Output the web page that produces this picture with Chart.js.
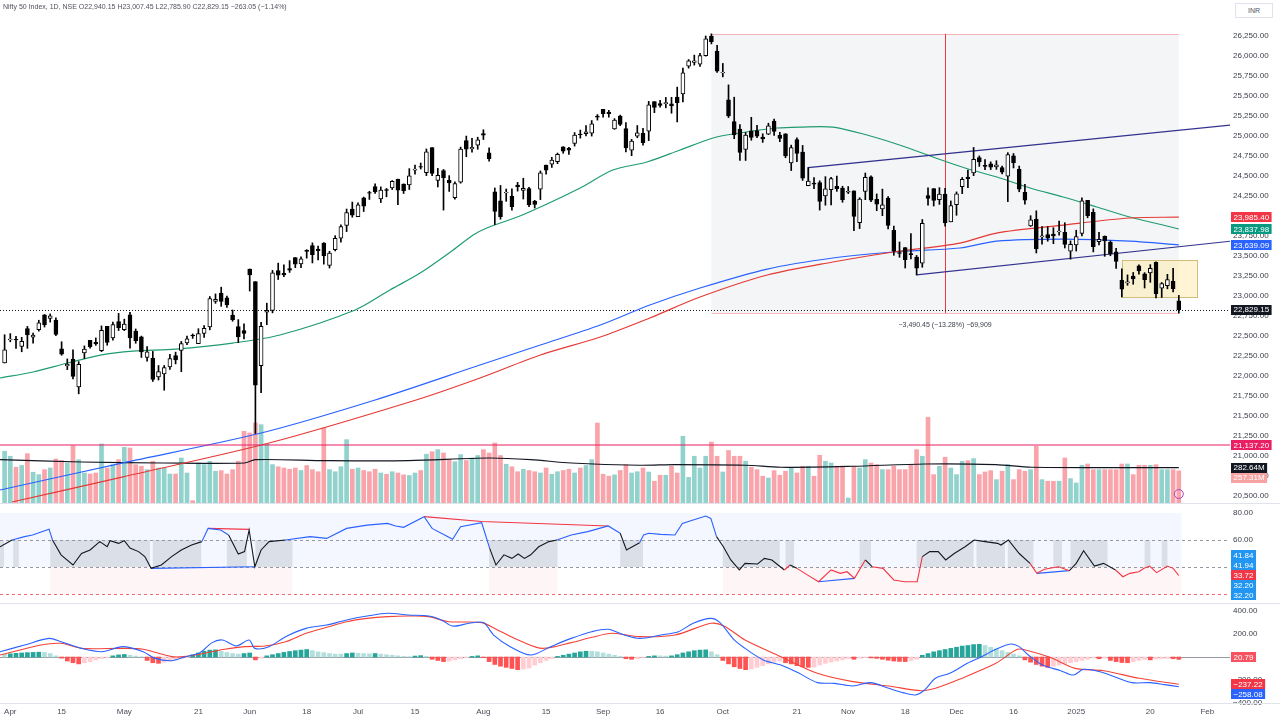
<!DOCTYPE html>
<html>
<head>
<meta charset="utf-8">
<title>Nifty 50 Index, 1D</title>
<script src="https://cdn.jsdelivr.net/npm/chart.js@4.4.1/dist/chart.umd.min.js"></script>
<style>
  html, body { margin: 0; padding: 0; background: #fff; }
  body { width: 1280px; height: 720px; position: relative; overflow: hidden; font-family: 'Liberation Sans', Arial, sans-serif; }
  canvas { position: absolute; left: 0; }
  #mainChart { top: 0; }
  #rsiChart { top: 504px; }
  #macdChart { top: 604px; }
  .sep { position: absolute; left: 0; width: 1280px; height: 1px; background: #e0e3eb; }
  #header { position: absolute; left: 3px; top: 3px; font-size: 7px; color: #50535e; white-space: nowrap; }
  #cur { position: absolute; left: 1235px; top: 3px; width: 36px; height: 13px; border: 1px solid #e0e3eb; font-size: 7px; color: #50535e; line-height: 13px; text-align: center; background: #fff; }
</style>
</head>
<body>
<canvas id="mainChart" width="1280" height="503"></canvas>
<div class="sep" style="top:503px"></div>
<canvas id="rsiChart" width="1280" height="99"></canvas>
<div class="sep" style="top:603px"></div>
<canvas id="macdChart" width="1280" height="116"></canvas>
<div class="sep" style="top:703px"></div>
<div id="header">Nifty 50 Index, 1D, NSE O22,940.15 H23,007.45 L22,785.90 C22,829.15 −263.05 (−1.14%)</div>
<div id="cur">INR</div>
<script>
// bar index: 0 = 1 Apr 2024, -1 = 28 Mar 2024, 205 = 27 Jan 2025
const opens = [
  22163,
  22455, 22458, 22371, 22592, 22486, 22578, 22765, 22720, 22700, 22340, 22125, 22212, 21862, 22290, 22447, 22421, 22316, 22620, 22475, 22679,
  22580, 22766, 22561, 22489, 22231, 22224, 21990, 22027, 22113, 22255, 22319, 22415, 22512, 22405, 22531, 22614, 22931, 23038, 22978, 22762, 22617, 22568,
  23338, 23179, 22128, 22798, 22821, 23319, 23283, 23344, 23480, 23400, 23570, 23630, 23586, 23661, 23382, 23578, 23723, 23881, 24087,
  23992, 24228, 24291, 24369, 24213, 24329, 24351, 24459, 24400, 24388, 24572, 24615, 24543, 24854, 24445, 24568, 24445, 24230, 24423, 24943, 24839, 24886,
  25030, 24789, 24303, 24189, 24289, 24248, 24387, 24321, 24342, 24184, 24334, 24636, 24648, 24680, 24864, 24845, 24906, 25025, 25030, 25035, 25249,
  25333, 25300, 25089, 25250, 25093, 24823, 24999, 25034, 25059, 25430, 25406, 25404, 25402, 25487, 25526, 25873, 25921, 25899, 26005, 26248, 26061,
  25788, 25452, 25181, 25085, 24832, 25066, 25067, 24986, 25023, 25187, 25008, 25027, 24664, 24956, 24798, 24378, 24412, 24418, 24252, 24328, 24371, 24349,
  24302, 24315, 23916, 24308, 24489, 24207, 24087, 24225, 23822, 23542, 23605, 23529, 23488, 23411, 24254, 24343, 24204, 24274, 23927,
  24141, 24367, 24488, 24539, 24729, 24633, 24652, 24615, 24604, 24498, 24753, 24584, 24297, 23877, 23960, 23738, 23769, 23775, 23801, 23796, 23561,
  23637, 23783, 24196, 24045, 23680, 23746, 23674, 23551, 23195, 23165, 23250, 23378, 23278, 23290, 23421, 23099, 23129, 23183, 22940.15
];
const highs = [
  22516,
  22530, 22496, 22483, 22620, 22537, 22697, 22768, 22776, 22727, 22428, 22213, 22327, 22180, 22376, 22447, 22476, 22626, 22620, 22675, 22783,
  22711, 22795, 22588, 22499, 22368, 22307, 22131, 22132, 22270, 22298, 22432, 22498, 22526, 22591, 22629, 22994, 23026, 23110, 22998, 22825, 22705, 22653,
  23338, 23179, 22670, 22910, 23320, 23411, 23389, 23442, 23481, 23490, 23579, 23664, 23624, 23668, 23558, 23754, 23889, 24087, 24174,
  24164, 24236, 24309, 24402, 24364, 24344, 24443, 24461, 24402, 24592, 24636, 24662, 24838, 24854, 24595, 24582, 24505, 24426, 24861, 24999, 24971, 24985,
  25078, 24851, 24350, 24382, 24337, 24340, 24420, 24472, 24359, 24196, 24563, 24638, 24734, 24787, 24867, 24858, 25043, 25074, 25130, 25193, 25268,
  25333, 25321, 25217, 25261, 25168, 24958, 25131, 25095, 25433, 25430, 25445, 25482, 25483, 25611, 25849, 25956, 26011, 26032, 26250, 26277, 26134,
  25907, 25639, 25485, 25143, 25044, 25234, 25134, 25028, 25160, 25212, 25046, 25029, 24886, 24978, 24882, 24605, 24481, 24440, 24492, 24484, 24499, 24372,
  24368, 24316, 24229, 24537, 24503, 24276, 24336, 24242, 23874, 23675, 23606, 23781, 23507, 23956, 24351, 24343, 24354, 24345, 24188,
  24301, 24481, 24574, 24857, 24751, 24705, 24677, 24691, 24624, 24792, 24781, 24624, 24395, 24004, 24065, 23869, 23867, 23854, 23938, 23916, 23689,
  23822, 24226, 24196, 24089, 23795, 23751, 23689, 23596, 23340, 23264, 23294, 23391, 23292, 23392, 23426, 23169, 23271, 23347, 23007.45
];
const lows = [
  22163,
  22428, 22346, 22303, 22346, 22410, 22561, 22612, 22674, 22504, 22259, 22080, 21962, 21777, 22218, 22349, 22383, 22305, 22385, 22447, 22568,
  22568, 22348, 22409, 22232, 22185, 21932, 21950, 21822, 22082, 22151, 22054, 22393, 22470, 22404, 22483, 22577, 22908, 22871, 22858, 22685, 22417, 22465,
  23062, 21281, 21791, 22642, 22789, 23206, 23242, 23295, 23354, 23353, 23473, 23413, 23451, 23398, 23350, 23563, 23673, 23805, 23985,
  23992, 24056, 24207, 24281, 24168, 24240, 24331, 24141, 24281, 24331, 24522, 24587, 24505, 24504, 24363, 24074, 24307, 24211, 24410, 24741, 24798, 24834,
  24956, 24686, 23893, 23960, 24184, 24074, 24311, 24212, 24116, 24100, 24205, 24522, 24607, 24654, 24784, 24771, 24874, 24973, 25000, 24999, 25199,
  25235, 25235, 25083, 25129, 24801, 24754, 24978, 24885, 24942, 25292, 25360, 25352, 25285, 25176, 25426, 25848, 25886, 25871, 25998, 26151, 25794,
  25739, 25230, 24966, 24695, 24694, 24947, 24979, 24920, 25017, 25008, 24929, 24728, 24568, 24679, 24445, 24378, 24341, 24074, 24135, 24140, 24308, 24172,
  24280, 23817, 23843, 24204, 24179, 24066, 24004, 23839, 23509, 23484, 23350, 23464, 23263, 23359, 24135, 24125, 24145, 23873, 23927,
  24009, 24280, 24354, 24504, 24620, 24580, 24580, 24583, 24527, 24180, 24601, 24303, 24149, 23870, 23538, 23647, 23685, 23654, 23760, 23600, 23460,
  23562, 23752, 23977, 23551, 23637, 23496, 23503, 23344, 22987, 23134, 23147, 23273, 23100, 23171, 22977, 22982, 23090, 23051, 22785.90
];
const closes = [
  22327,
  22462, 22453, 22434, 22514, 22513, 22666, 22642, 22753, 22519, 22272, 22147, 21995, 22147, 22336, 22368, 22402, 22570, 22419, 22643, 22605,
  22648, 22476, 22442, 22302, 22302, 21957, 22055, 22104, 22218, 22201, 22404, 22466, 22502, 22529, 22597, 22967, 22957, 22932, 22888, 22704, 22488, 22531,
  23264, 21884, 22620, 22821, 23290, 23259, 23264, 23323, 23398, 23465, 23557, 23516, 23567, 23501, 23538, 23721, 23868, 24044, 24010,
  24141, 24124, 24286, 24302, 24324, 24321, 24433, 24324, 24316, 24502, 24587, 24613, 24801, 24531, 24509, 24479, 24413, 24406, 24835, 24836, 24857, 24951,
  25011, 24718, 24056, 23993, 24297, 24117, 24368, 24347, 24140, 24144, 24541, 24573, 24698, 24770, 24811, 24823, 25010, 25017, 25052, 25152, 25236,
  25279, 25280, 25198, 25145, 24852, 24936, 25041, 24918, 25389, 25357, 25383, 25419, 25377, 25416, 25791, 25939, 25940, 26004, 26216, 26178, 25811,
  25797, 25250, 25015, 24796, 25013, 24982, 24998, 24964, 25128, 25057, 24971, 24750, 24854, 24781, 24472, 24435, 24399, 24181, 24339, 24467, 24341, 24205,
  24304, 23995, 24213, 24484, 24199, 24148, 24141, 23883, 23559, 23533, 23453, 23518, 23349, 23907, 24221, 24194, 24275, 23914, 24131,
  24276, 24457, 24467, 24708, 24677, 24619, 24610, 24641, 24548, 24768, 24668, 24336, 24199, 23952, 23588, 23753, 23727, 23750, 23813, 23645, 23645,
  23743, 24189, 24005, 23616, 23708, 23689, 23527, 23432, 23086, 23176, 23213, 23312, 23203, 23345, 23025, 23155, 23205, 23092, 22829.15
];
// volume in millions
const volumes = [
  414, 374, 286, 300, 395, 246, 227, 267, 280, 352, 340, 320, 459, 346, 240, 232, 240, 472, 280, 307, 347,
  446, 440, 307, 294, 267, 334, 280, 280, 232, 232, 360, 240, 19, 320, 307, 334, 254, 259, 232, 267, 334, 574,
  560, 640, 627, 472, 307, 290, 280, 270, 280, 260, 300, 267, 250, 600, 267, 250, 290, 507, 270,
  280, 260, 250, 270, 240, 230, 250, 240, 225, 220, 240, 260, 390, 410, 427, 400, 350, 330, 387, 340, 360, 380,
  427, 400, 480, 380, 310, 290, 250, 270, 260, 250, 240, 280, 230, 250, 260, 270, 240, 280, 300, 347, 640,
  230, 215, 225, 260, 307, 240, 250, 280, 248, 174, 222, 222, 294, 240, 534, 205, 374, 280, 374, 488, 374,
  248, 420, 374, 374, 334, 286, 267, 214, 200, 259, 222, 254, 286, 240, 294, 294, 214, 382, 334, 320, 294, 294,
  40, 294, 280, 347, 320, 307, 267, 267, 294, 267, 267, 307, 427, 374, 686, 227, 294, 366, 280,
  227, 334, 339, 355, 227, 248, 259, 187, 254, 307, 187, 267, 254, 267, 454, 187, 174, 174, 174, 360, 195,
  160, 302, 312, 267, 267, 267, 267, 267, 312, 312, 227, 302, 302, 302, 307, 267, 267, 267, 257.31
];
const macdHist = [
  25, 28, 32, 35, 38, 40, 42, 40, 30, 10, -10, -35, -50, -60, -50, -40, -25, -15, -5, 10, 18, 22, 15, 8, 2,
  -30, -50, -55, -45, -35, -25, -15, -5, 20, 35, 50, 60, 62, 50, 40, 30, 25, 30, 35, -25, -10,
  10, 20, 30, 40, 48, 55, 60, 65, 55, 45, 38, 30, 25, 25, 30, 35, 32, 30, 28, 30, 25, 20, 15,
  10, 5, 3, 8, 12, 5, -20, -30, -40, -35, -25, -15, -5, 5, 10, -5,
  -40, -65, -80, -90, -100, -110, -105, -95, -70, -50, -30, -15, 5, 15, 25, 35, 45, 50, 50, 45, 35,
  25, 15, 5, -15, -20, -15, -5, 5, 10, 10, 8, 10, 20, 35, 45, 55, 60, 62, 45, 20,
  -30, -60, -85, -100, -110, -105, -90, -75, -60, -45, -35, -50, -60, -75, -85, -90, -88,
  -70, -55, -45, -35, -25, -15, -20, -10, -5, -8, -12, -20, -28, -35, -38, -40, -30, -20,
  15, 30, 45, 55, 65, 75, 85, 95, 100, 108, 110, 100, 85, 70, 55, 40, 25, 10,
  -25, -45, -65, -80, -90, -80, -70, -60, -50, -40, -30, -20, -10, -15, -10,
  -30, -40, -48, -50, -40, -30, -22, -25, -18, -15, -12, -15, -20.79
];
// line studies read at [bar index, value]
const maGreen = [[-1.8,21975],[4,22050],[10,22162],[15.8,22262],[21.5,22312],[29,22337],[39,22412],[47.3,22512],[60.5,22825],[66.6,23075],[71.9,23287],[77.7,23575],[81.2,23762],[83.6,23850],[89.4,24000],[93,24112],[100,24350],[105.7,24575],[111.7,24675],[117.5,24825],[123.3,24975],[126.8,25025],[134.5,25100],[138.5,25112],[144.3,25112],[150.3,25012],[156,24887],[161.9,24737],[167.5,24600],[173.6,24475],[178.9,24350],[184.7,24237],[190.6,24112],[196.4,23987],[202.2,23887],[205,23837.98]];
const maBlue = [[-1.8,20575],[19.6,20912],[44,21287],[64,21700],[82.4,22137],[93,22387],[103.5,22637],[112.2,22887],[121,23100],[132.8,23337],[144.3,23475],[154.9,23550],[166.6,23600],[173,23687],[184.7,23712],[196.4,23687],[205,23639.09]];
const maRed = [[0.3,20425],[19.6,20737],[45.4,21162],[71.2,21700],[82.4,21975],[93,22262],[103.5,22487],[112.2,22725],[121,22987],[132.8,23262],[144.3,23425],[154.9,23550],[166.6,23662],[173,23787],[184.7,23887],[196.4,23975],[205,23985.40]];
const volMA = [[-1.8,347],[12.5,328],[26.8,320],[41.1,320],[43,347],[55.5,339],[69.8,339],[84,360],[91.3,347],[98.4,320],[110.4,302],[116.6,307],[129,302],[135.2,286],[147.8,294],[160.4,312],[172.9,307],[179.2,286],[205,282.64]];
const channelUpper = [[140,24425],[140,24605],[214.3,25137]];
const channelLower = [[159,23263],[214.3,23687]];
const levelLine = 21137.20;
const measure = { from: 123, to: 205, high: 26277, low: 22786, text: '−3,490.45 (−13.28%) −69,909' };
const boxZone = { from: 195, to: 208.2, high: 23450, low: 22987 };

const rsiPts = [[-1.8,55],[0.3,60],[2.5,62.5],[3.9,63.7],[5.4,66],[6.8,68],[7.4,60],[8.9,49],[11,41.5],[12.5,50],[14,52.6],[15.7,58.8],[17,55],[17.5,59.5],[19,57.5],[20,59.5],[21,54],[22.5,51.4],[23.6,47.7],[24.7,39],[26.5,41.5],[28.3,47.7],[30,52.6],[31.8,56.3],[33.6,58.8],[34.7,68.6],[36.9,67.4],[38.3,63.7],[40,49.6],[41.1,51.4],[41.9,67.4],[42.9,40.2],[44,52.6],[45.4,58.8],[48.3,60],[52.6,62.5],[55.5,61.2],[59,68.6],[62.6,71],[66.2,72.3],[67.6,70.4],[69,69.4],[72.6,77.3],[74,68.6],[76.2,63.7],[77.6,60.5],[79,69.9],[82.7,72.8],[84.1,53.8],[85.2,41.5],[86.6,49],[88,46.4],[89.1,49.6],[90.2,46.4],[91.3,49],[92.7,55],[94.5,58.8],[95.9,60],[98.4,63.7],[101.3,66.2],[104.9,70.4],[107,65],[108.1,52.6],[110.4,58],[111.1,63.7],[112,65],[114.1,64.2],[116.6,63.7],[117.9,72.3],[119.8,74.8],[122,77.8],[122.9,76],[123.9,62.5],[125.1,55],[126.4,45.2],[127.9,37.8],[128.9,42.7],[131.1,42.2],[132.3,46.4],[133.6,45.2],[135.8,37.8],[136.8,41.5],[138,39],[139.9,34],[141.8,29.1],[144,37.8],[145.6,35.3],[146.8,36.5],[148.1,31.6],[150,45.2],[151.2,40.2],[153.1,39],[155,30.4],[156.9,29.1],[159.1,29.1],[160,47.7],[161.3,51.4],[162.8,51.4],[164.1,45.2],[165.6,50],[167.5,55],[169.1,60],[171,58.8],[173.2,57.5],[173.8,56.3],[175.1,60],[177,50],[178.9,42.7],[180.1,35.3],[181.4,38.3],[183.9,40.2],[185.8,37.3],[187,42.7],[188.3,52.1],[190.2,40.7],[191.8,42.7],[193.9,37.8],[195.2,32.8],[196.4,35.3],[198,36.5],[198.9,39],[199.9,40.7],[201.1,35.8],[203,40.7],[204,39],[205,33.72]];
const rsiDivRed = [[[34.7,68.6],[41.9,67.9]], [[72.6,77.3],[82.7,73.7],[104.9,70.4]]];
const rsiDivBlue = [[[24.7,39],[42.9,40.2]], [[141.8,29.1],[148.1,31.6]], [[180.1,35.3],[185.8,37.3]]];
const rsiGreyZones = [[-1.8,-1.1],[0.5,1.5],[7,24.5],[25,33.5],[38,41.5],[43,49.5],[84,96],[107,111],[125,135],[136,137.5],[149,151],[159,169],[169.5,174.5],[175,179.5],[183,184.5],[186,192.5],[199,200],[202,203]];
const rsiPinkZones = [[7,49.5],[84,96],[125,205.5]];
const rsiLabelValues = [41.84, 41.94, 33.72, 32.20, 32.20];

const macdPts = [[-1.8,46],[2.5,104],[6.8,162],[8.9,133],[12.5,75],[16.1,46],[19.7,90],[23.3,46],[25.4,-12],[28.3,-32],[30.4,-3],[33.3,38],[35.4,125],[37.2,148],[39.7,96],[41.9,148],[42.9,75],[45.4,90],[48.3,177],[51.9,249],[55.5,278],[59,322],[62.6,356],[66.2,380],[69.8,365],[73.4,356],[75.6,322],[77.6,269],[80.5,293],[83,299],[84.8,191],[87.7,90],[91.3,17],[94.8,90],[98.4,162],[102,220],[104.9,241],[107.7,191],[110.4,162],[114.1,191],[117.2,220],[119.8,293],[122.9,336],[124.5,299],[127,148],[128.9,75],[132.1,-26],[135.2,-70],[138.4,-142],[141.6,-223],[144.6,-229],[147.8,-252],[150.9,-223],[154.1,-272],[156.6,-310],[158.8,-330],[160.4,-287],[162.3,-185],[164.8,-142],[167.9,-55],[170.4,3],[172.9,67],[175.5,113],[177,90],[178.6,17],[181.1,-70],[184.3,-119],[186.5,-157],[188.3,-107],[191.2,-128],[193.7,-171],[196.8,-223],[200,-223],[202.5,-240],[205,-258.08]];
const signalPts = [[-1.8,17],[5.4,104],[8.9,119],[12.5,75],[19.7,75],[23.3,67],[28.3,3],[30.4,3],[34,32],[37.6,67],[41.1,90],[44.7,96],[48.3,133],[51.9,206],[55.5,258],[59,307],[62.6,336],[66.2,351],[69.8,356],[73.4,351],[76.9,307],[82.7,299],[85.5,235],[89.8,133],[93.4,75],[98.4,125],[102,171],[105.6,206],[110.4,177],[116.6,191],[122.9,293],[125.2,270],[128.9,148],[135.2,3],[141.6,-142],[147.8,-214],[154.1,-252],[159.8,-293],[162.3,-272],[166.5,-194],[172.9,-55],[176.7,67],[178.6,55],[182.4,-3],[186.8,-99],[191.8,-119],[198.1,-185],[205,-237.22]];

const tickIdx = [0, 9, 20, 33, 42, 52, 61, 71, 83, 94, 104, 114, 125, 138, 147, 157, 166, 176, 187, 200, 210];
const tickText = ['Apr', '15', 'May', '21', 'Jun', '18', 'Jul', '15', 'Aug', '15', 'Sep', '16', 'Oct', '21', 'Nov', '18', 'Dec', '16', '2025', '20', 'Feb'];
const priceTicks = [26250, 26000, 25750, 25500, 25250, 25000, 24750, 24500, 24250, 24000, 23750, 23500, 23250, 23000, 22750, 22500, 22250, 22000, 21750, 21500, 21250, 21000, 20750, 20500];
const rsiTicks = [80, 60];
const macdTicks = [400, 200, -200, -400];

// ---- layout / style ----
const X_MIN = -1.807, X_MAX = 213.98;
const FIRST = -1;
const LAST = FIRST + closes.length - 1;
const FONT = "'Liberation Sans', Arial, sans-serif";
Chart.defaults.font.family = FONT;
Chart.defaults.animation = false;

const fmt2 = v => {
  const s = Math.abs(v).toLocaleString('en-US', { minimumFractionDigits: 2, maximumFractionDigits: 2 });
  return v < 0 ? '−' + s : s;
};
const noPad = s => { s.paddingTop = 0; s.paddingBottom = 0; s.paddingLeft = 0; s.paddingRight = 0; };

const xAxis = show => ({
  type: 'linear', min: X_MIN, max: X_MAX, display: show, offset: false,
  grid: { display: false, drawTicks: false }, border: { display: false },
  afterBuildTicks: s => { s.ticks = tickIdx.map(v => ({ value: v })); },
  afterFit: s => { if (show) s.height = 17; noPad(s); },
  ticks: { autoSkip: false, maxRotation: 0, padding: 4, color: '#4a4e59', font: { size: 8 },
           callback: (v, i) => tickText[i] }
});
const yAxis = (min, max, ticks) => ({
  position: 'right', min, max,
  grid: { display: false, drawTicks: false }, border: { display: false },
  afterFit: s => { s.width = 50; noPad(s); },
  afterBuildTicks: s => { s.ticks = ticks.map(v => ({ value: v })); },
  ticks: { autoSkip: false, padding: 3, color: '#3b3f4a', font: { size: 8 }, callback: v => fmt2(v) }
});

// stack axis labels so they do not overlap; the middle label of a group stays at its value
function placeLabels(items, h, top, bottom) {
  let groups = items.map(it => [it]);
  const place = g => {
    const k = Math.floor((g.length - 1) / 2);
    let start = g[k].y - k * h - h / 2;
    start = Math.max(top, Math.min(start, bottom - g.length * h));
    g.forEach((it, j) => { it.py = start + h * j + h / 2; });
  };
  let merged = true;
  while (merged) {
    merged = false;
    groups.forEach(place);
    for (let i = 0; i < groups.length - 1; i++) {
      const a = groups[i], b = groups[i + 1];
      if (a[a.length - 1].py + h / 2 > b[0].py - h / 2) {
        groups.splice(i, 2, a.concat(b));
        merged = true;
        break;
      }
    }
  }
  groups.forEach(place);
}
function drawLabels(ctx, x0, items) {
  ctx.save();
  ctx.font = '8px ' + FONT;
  ctx.textBaseline = 'middle';
  ctx.textAlign = 'left';
  items.forEach(it => {
    const w = ctx.measureText(it.text).width + 5;
    ctx.fillStyle = it.bg;
    ctx.fillRect(x0, Math.round(it.py - 5), w, 10);
    ctx.fillStyle = it.fg || '#fff';
    ctx.fillText(it.text, x0 + 2.5, it.py + 0.5);
  });
  ctx.restore();
}

const UP = '#ffffff', DOWN = '#000000';
const VOL_UP = 'rgba(38,166,154,0.5)', VOL_DOWN = 'rgba(242,54,69,0.45)';

// ---- main pane ----
const PRICE_MAX = 26700, PRICE_MIN = 26700 - 503 / 0.08;
const VOL_MAX = 503 / 0.125;

const wickData = closes.map((c, i) => ({ x: FIRST + i, y: [lows[i], highs[i]] }));
const bodyData = closes.map((c, i) => {
  const lo = Math.min(opens[i], c), hi = Math.max(opens[i], c);
  const pad = hi - lo < 8 ? (8 - (hi - lo)) / 2 : 0;
  return { x: FIRST + i, y: [lo - pad, hi + pad] };
});
const isUp = closes.map((c, i) => c >= opens[i]);

const mainPlugin = {
  id: 'mainDecor',
  beforeDatasetsDraw(chart) {
    const { ctx, chartArea: a, scales: { x, y } } = chart;
    ctx.save();
    // measure box
    const mx0 = x.getPixelForValue(measure.from), mx1 = x.getPixelForValue(measure.to);
    const my0 = y.getPixelForValue(measure.high), my1 = y.getPixelForValue(measure.low);
    ctx.fillStyle = 'rgba(120,128,150,0.08)';
    ctx.fillRect(mx0, my0, mx1 - mx0, my1 - my0);
    ctx.strokeStyle = 'rgba(242,54,69,0.35)';
    ctx.lineWidth = 1;
    ctx.beginPath();
    ctx.moveTo(mx0, Math.round(my0) + 0.5); ctx.lineTo(mx1, Math.round(my0) + 0.5);
    ctx.moveTo(mx0, Math.round(my1) + 0.5); ctx.lineTo(mx1, Math.round(my1) + 0.5);
    ctx.stroke();
    ctx.strokeStyle = '#f23645';
    const mxc = Math.round((mx0 + mx1) / 2) + 0.5;
    ctx.beginPath(); ctx.moveTo(mxc, my0); ctx.lineTo(mxc, my1); ctx.stroke();
    // highlight rectangle
    const bx0 = x.getPixelForValue(boxZone.from), bx1 = x.getPixelForValue(boxZone.to);
    const by0 = y.getPixelForValue(boxZone.high), by1 = y.getPixelForValue(boxZone.low);
    ctx.fillStyle = 'rgba(255,236,170,0.5)';
    ctx.fillRect(bx0, by0, bx1 - bx0, by1 - by0);
    ctx.strokeStyle = '#d2bd7a';
    ctx.strokeRect(Math.round(bx0) + 0.5, Math.round(by0) + 0.5, Math.round(bx1 - bx0), Math.round(by1 - by0));
    // last price dotted line
    const ly = Math.round(y.getPixelForValue(closes[closes.length - 1])) + 0.5;
    ctx.strokeStyle = '#131722';
    ctx.setLineDash([1, 2]);
    ctx.beginPath(); ctx.moveTo(a.left, ly); ctx.lineTo(a.right, ly); ctx.stroke();
    ctx.restore();
  },
  afterDatasetsDraw(chart) {
    const { ctx, chartArea: a, scales: { x, y, yv } } = chart;
    ctx.save();
    const mx0 = x.getPixelForValue(measure.from), mx1 = x.getPixelForValue(measure.to);
    const my1 = y.getPixelForValue(measure.low);
    ctx.font = '7px ' + FONT;
    ctx.textAlign = 'center';
    ctx.textBaseline = 'middle';
    const tw = ctx.measureText(measure.text).width;
    ctx.fillStyle = '#ffffff';
    ctx.fillRect((mx0 + mx1) / 2 - tw / 2 - 4, my1 + 6, tw + 8, 11);
    ctx.fillStyle = '#3b3f4a';
    ctx.fillText(measure.text, (mx0 + mx1) / 2, my1 + 12);
    // small icon near last volume bar
    ctx.strokeStyle = '#ab47bc';
    ctx.lineWidth = 1;
    ctx.beginPath(); ctx.arc(x.getPixelForValue(LAST), 494, 4.5, 0, Math.PI * 2); ctx.stroke();
    ctx.restore();

    const last = closes.length - 1;
    const priceItems = [
      { y: y.getPixelForValue(maRed[maRed.length - 1][1]), text: fmt2(maRed[maRed.length - 1][1]), bg: '#f23645' },
      { y: y.getPixelForValue(maGreen[maGreen.length - 1][1]), text: fmt2(maGreen[maGreen.length - 1][1]), bg: '#089981' },
      { y: y.getPixelForValue(maBlue[maBlue.length - 1][1]), text: fmt2(maBlue[maBlue.length - 1][1]), bg: '#2962ff' },
      { y: y.getPixelForValue(closes[last]), text: fmt2(closes[last]), bg: '#131722' },
      { y: y.getPixelForValue(levelLine), text: fmt2(levelLine), bg: '#e91e63' },
      { y: yv.getPixelForValue(volMA[volMA.length - 1][1]), text: fmt2(volMA[volMA.length - 1][1]) + 'M', bg: '#131722' },
      { y: yv.getPixelForValue(volumes[last]), text: fmt2(volumes[last]) + 'M', bg: '#f7a3a3' }
    ];
    placeLabels(priceItems, 10, a.top, a.bottom);
    drawLabels(chart.ctx, a.right + 1, priceItems);
  }
};

new Chart(document.getElementById('mainChart'), {
  type: 'bar',
  data: {
    datasets: [
      { type: 'bar', yAxisID: 'yv', order: 10, grouped: false, barThickness: 4,
        data: volumes.map((v, i) => ({ x: FIRST + i, y: v })),
        backgroundColor: isUp.map(u => u ? VOL_UP : VOL_DOWN) },
      { type: 'line', yAxisID: 'yv', order: 9, data: volMA, borderColor: '#131722', borderWidth: 1.2, pointRadius: 0, tension: 0.3 },
      { type: 'line', yAxisID: 'y', order: 6, data: maRed, borderColor: '#e53935', borderWidth: 1.2, pointRadius: 0, tension: 0.3 },
      { type: 'line', yAxisID: 'y', order: 6, data: maBlue, borderColor: '#2962ff', borderWidth: 1.2, pointRadius: 0, tension: 0.3 },
      { type: 'line', yAxisID: 'y', order: 6, data: maGreen, borderColor: '#1f9c6e', borderWidth: 1.2, pointRadius: 0, tension: 0.3 },
      { type: 'line', yAxisID: 'y', order: 5, data: [[X_MIN, levelLine], [X_MAX, levelLine]], borderColor: '#e91e63', borderWidth: 1.2, pointRadius: 0 },
      { type: 'line', yAxisID: 'y', order: 5, data: channelUpper, borderColor: '#33338f', borderWidth: 1.2, pointRadius: 0 },
      { type: 'line', yAxisID: 'y', order: 5, data: channelLower, borderColor: '#33338f', borderWidth: 1.2, pointRadius: 0 },
      { type: 'bar', yAxisID: 'y', order: 2, grouped: false, barThickness: 1, data: wickData, backgroundColor: '#000' },
      { type: 'bar', yAxisID: 'y', order: 1, grouped: false, barThickness: 4, data: bodyData,
        backgroundColor: isUp.map(u => u ? UP : DOWN), borderColor: '#000', borderWidth: 1, borderSkipped: false }
    ]
  },
  options: {
    responsive: false, maintainAspectRatio: false, events: [],
    layout: { padding: 0 },
    plugins: { legend: { display: false }, tooltip: { enabled: false } },
    scales: {
      x: xAxis(false),
      y: yAxis(PRICE_MIN, PRICE_MAX, priceTicks),
      yv: { display: false, min: 0, max: VOL_MAX }
    }
  },
  plugins: [mainPlugin]
});

// ---- RSI pane ----
const RSI_MAX = 80 + 9 / 1.35, RSI_MIN = 80 - 90 / 1.35;
const rsiColor = v => v > 60 ? '#2962ff' : v < 40 ? '#f23645' : '#131722';
const rsiPlugin = {
  id: 'rsiDecor',
  beforeDatasetsDraw(chart) {
    const { ctx, chartArea: a, scales: { x, y } } = chart;
    const xEnd = x.getPixelForValue(LAST + 0.5);
    const y80 = y.getPixelForValue(80), y60 = y.getPixelForValue(60), y40 = y.getPixelForValue(40), y20 = y.getPixelForValue(20);
    ctx.save();
    ctx.fillStyle = 'rgba(41,98,255,0.05)';
    ctx.fillRect(a.left, y80, xEnd - a.left, y40 - y80);
    ctx.fillStyle = 'rgba(120,123,134,0.2)';
    rsiGreyZones.forEach(([s, e]) => {
      const x0 = x.getPixelForValue(s), x1 = x.getPixelForValue(e);
      ctx.fillRect(x0, y60, x1 - x0, y40 - y60);
    });
    ctx.fillStyle = 'rgba(242,54,69,0.05)';
    rsiPinkZones.forEach(([s, e]) => {
      const x0 = x.getPixelForValue(s), x1 = x.getPixelForValue(e);
      ctx.fillRect(x0, y40, x1 - x0, y20 - y40);
    });
    ctx.lineWidth = 1;
    ctx.setLineDash([3, 3]);
    ctx.strokeStyle = '#9598a1';
    [y60, y40].forEach(yy => { ctx.beginPath(); ctx.moveTo(a.left, Math.round(yy) + 0.5); ctx.lineTo(a.right, Math.round(yy) + 0.5); ctx.stroke(); });
    ctx.strokeStyle = 'rgba(242,54,69,0.75)';
    ctx.beginPath(); ctx.moveTo(a.left, Math.round(y20) + 0.5); ctx.lineTo(a.right, Math.round(y20) + 0.5); ctx.stroke();
    ctx.restore();
  },
  afterDatasetsDraw(chart) {
    const { chartArea: a, scales: { y } } = chart;
    const colors = ['#2196f3', '#2196f3', '#f23645', '#2196f3', '#2196f3'];
    const items = rsiLabelValues.map((v, i) => ({ y: y.getPixelForValue(v), text: fmt2(v), bg: colors[i] }));
    placeLabels(items, 10, a.top, a.bottom);
    drawLabels(chart.ctx, a.right + 1, items);
  }
};
const rsiDatasets = [
  { type: 'line', data: rsiPts, borderWidth: 1.1, pointRadius: 0, borderColor: '#131722',
    segment: { borderColor: c => rsiColor((c.p0.parsed.y + c.p1.parsed.y) / 2) } }
];
rsiDivRed.forEach(d => rsiDatasets.push({ type: 'line', data: d, borderColor: '#f23645', borderWidth: 1.1, pointRadius: 0 }));
rsiDivBlue.forEach(d => rsiDatasets.push({ type: 'line', data: d, borderColor: '#2962ff', borderWidth: 1.1, pointRadius: 0 }));

new Chart(document.getElementById('rsiChart'), {
  type: 'line',
  data: { datasets: rsiDatasets },
  options: {
    responsive: false, maintainAspectRatio: false, events: [],
    layout: { padding: 0 },
    plugins: { legend: { display: false }, tooltip: { enabled: false } },
    scales: { x: xAxis(false), y: yAxis(RSI_MIN, RSI_MAX, rsiTicks) }
  },
  plugins: [rsiPlugin]
});

// ---- MACD pane ----
const MACD_MAX = 53 / 0.115, MACD_MIN = -46 / 0.115;
const histColors = macdHist.map((v, i) => {
  const p = i > 0 ? macdHist[i - 1] : v;
  if (v >= 0) return v > p ? '#26a69a' : '#b2dfdb';
  return v < p ? '#ff5252' : '#ffcdd2';
});
const macdPlugin = {
  id: 'macdDecor',
  beforeDatasetsDraw(chart) {
    const { ctx, chartArea: a, scales: { y } } = chart;
    const y0 = Math.round(y.getPixelForValue(0)) + 0.5;
    ctx.save();
    ctx.strokeStyle = '#9598a1';
    ctx.lineWidth = 1;
    ctx.beginPath(); ctx.moveTo(a.left, y0); ctx.lineTo(a.right, y0); ctx.stroke();
    ctx.restore();
  },
  afterDatasetsDraw(chart) {
    const { chartArea: a, scales: { y } } = chart;
    const items = [
      { y: y.getPixelForValue(0), text: '20.79', bg: '#f7525f' },
      { y: y.getPixelForValue(signalPts[signalPts.length - 1][1]), text: fmt2(signalPts[signalPts.length - 1][1]), bg: '#f23645' },
      { y: y.getPixelForValue(macdPts[macdPts.length - 1][1]), text: fmt2(macdPts[macdPts.length - 1][1]), bg: '#2962ff' }
    ];
    placeLabels(items, 10, a.top, a.bottom);
    drawLabels(chart.ctx, a.right + 1, items);
  }
};

new Chart(document.getElementById('macdChart'), {
  type: 'bar',
  data: {
    datasets: [
      { type: 'line', order: 1, data: macdPts, borderColor: '#2962ff', borderWidth: 1.1, pointRadius: 0, tension: 0.3 },
      { type: 'line', order: 2, data: signalPts, borderColor: '#f44336', borderWidth: 1.1, pointRadius: 0, tension: 0.3 },
      { type: 'bar', order: 5, grouped: false, barThickness: 4,
        data: macdHist.map((v, i) => ({ x: FIRST + i, y: v })), backgroundColor: histColors }
    ]
  },
  options: {
    responsive: false, maintainAspectRatio: false, events: [],
    layout: { padding: 0 },
    plugins: { legend: { display: false }, tooltip: { enabled: false } },
    scales: { x: xAxis(true), y: yAxis(MACD_MIN, MACD_MAX, macdTicks) }
  },
  plugins: [macdPlugin]
});
</script>
</body>
</html>
